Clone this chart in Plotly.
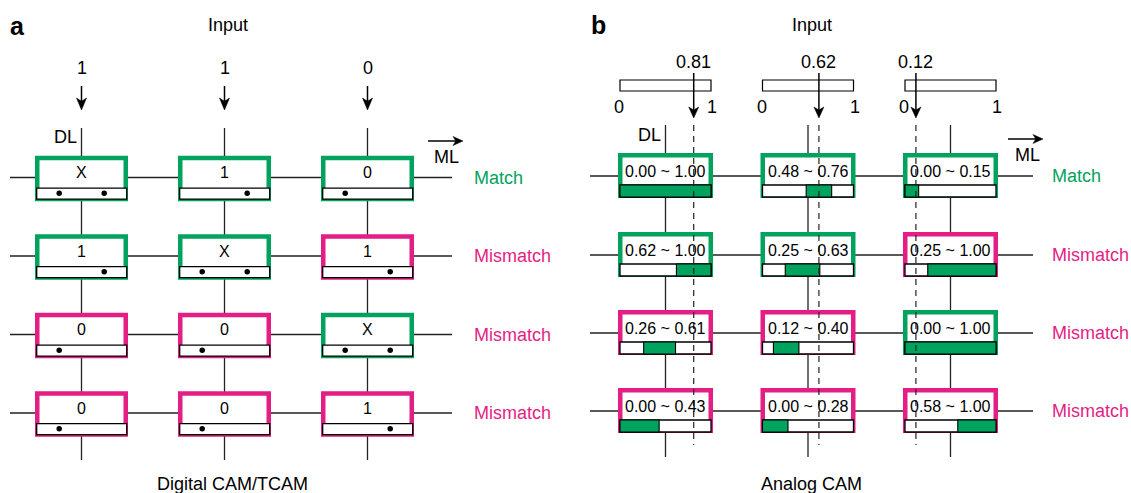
import plotly.graph_objects as go

# ---------------- data ----------------
digital_inputs = ["1", "1", "0"]
digital_cells = [["X", "1", "0"],
                 ["1", "X", "1"],
                 ["0", "0", "X"],
                 ["0", "0", "1"]]
digital_results = ["Match", "Mismatch", "Mismatch", "Mismatch"]

analog_inputs = [0.81, 0.62, 0.12]
analog_low = [[0.00, 0.48, 0.00],
              [0.62, 0.25, 0.25],
              [0.26, 0.12, 0.00],
              [0.00, 0.00, 0.58]]
analog_high = [[1.00, 0.76, 0.15],
               [1.00, 0.63, 1.00],
               [0.61, 0.40, 1.00],
               [0.43, 0.28, 1.00]]
analog_results = ["Match", "Mismatch", "Mismatch", "Mismatch"]

# ---------------- style / layout ----------------
W, H = 1131, 493
GREEN = "#00A35E"
PINK = "#E41E84"
LINE = "#222222"
FONT = "Liberation Sans, Arial, Helvetica, sans-serif"

shapes = []
annotations = []
dot_x, dot_y = [], []


def line(x0, y0, x1, y1, width=1.3, color=LINE, dash=None):
    d = dict(type="line", x0=x0, y0=y0, x1=x1, y1=y1, xref="x", yref="y",
             layer="below", line=dict(color=color, width=width))
    if dash:
        d["line"]["dash"] = dash
    shapes.append(d)


def rect(x0, y0, x1, y1, lc, lw, fill):
    shapes.append(dict(type="rect", x0=x0, y0=y0, x1=x1, y1=y1, xref="x", yref="y",
                       layer="below", line=dict(color=lc, width=lw), fillcolor=fill))


def head(xt, yt, direction, length, hw):
    if direction == "down":
        p = (f"M{xt},{yt} L{xt-hw},{yt-length} L{xt},{yt-length*0.72} "
             f"L{xt+hw},{yt-length} Z")
    else:  # right
        p = (f"M{xt},{yt} L{xt-length},{yt-hw} L{xt-length*0.72},{yt} "
             f"L{xt-length},{yt+hw} Z")
    shapes.append(dict(type="path", path=p, xref="x", yref="y", layer="below",
                       fillcolor="black", line=dict(color="black", width=0.5)))


def text(x, y, s, size=18, color="black", xanchor="center", bold=False):
    if bold:
        s = f"<b>{s}</b>"
    annotations.append(dict(x=x, y=y, xref="x", yref="y", text=s, showarrow=False,
                            xanchor=xanchor, yanchor="middle",
                            font=dict(family=FONT, size=size, color=color)))


def result_color(r):
    return GREEN if r == "Match" else PINK


# ================= panel a : digital CAM =================
a_cols = [81.5, 224.5, 367.5]
a_rows = [178.5, 257.0, 335.5, 414.0]
a_bw, a_bh, bord = 93, 45.5, 4.5

text(17, 26, "a", size=25, bold=True)
text(228, 25, "Input", size=18)
text(65, 137, "DL", size=18)
text(232, 484, "Digital CAM/TCAM", size=18)
text(446, 157, "ML", size=18)
line(428, 141, 456, 141, width=1.5, color="black")
head(463, 141, "right", 10, 4.5)

for j, cx in enumerate(a_cols):
    text(cx, 68, digital_inputs[j], size=18)
    line(cx, 86, cx, 104, width=1.5, color="black")
    head(cx, 110, "down", 12, 5)
    line(cx, 128, cx, 460)

for i, cy in enumerate(a_rows):
    line(10, cy - 1, 452, cy - 1)
    text(472, cy - 1, digital_results[i], size=18, color=result_color(digital_results[i]),
         xanchor="left")

for i, cy in enumerate(a_rows):
    top = cy - a_bh / 2
    for j, cx in enumerate(a_cols):
        v = digital_cells[i][j]
        ok = (v == "X") or (v == digital_inputs[j])
        col = GREEN if ok else PINK
        left = cx - a_bw / 2
        rect(left + bord / 2, top + bord / 2, left + a_bw - bord / 2, top + a_bh - bord / 2,
             col, bord, "white")
        bx0, bx1 = left + 1.7, left + a_bw - 1.3
        rect(bx0, top + 32.3, bx1, top + 43.3, "black", 1.3, "white")
        text(cx, top + 17, v, size=16)
        bw = bx1 - bx0
        if v in ("0", "X"):
            dot_x.append(bx0 + 0.25 * bw)
            dot_y.append(top + 37.5)
        if v in ("1", "X"):
            dot_x.append(bx0 + 0.75 * bw)
            dot_y.append(top + 37.5)

# ================= panel b : analog CAM =================
b_cols = [665.5, 808.0, 950.5]
b_rows = [175.5, 254.5, 332.5, 410.5]
b_bw, b_bh = 95, 45

text(598, 25, "b", size=25, bold=True)
text(812, 25, "Input", size=18)
text(649, 135, "DL", size=18)
text(811, 484, "Analog CAM", size=18)
text(1027, 155, "ML", size=18)
line(1008, 139, 1036, 139, width=1.5, color="black")
head(1043, 139, "right", 10, 4.5)


def b_scale(j):
    left = b_cols[j] - b_bw / 2
    return left + 2, left + b_bw - 2


for j, cx in enumerate(b_cols):
    x0, x1 = b_scale(j)
    vx = x0 + analog_inputs[j] * (x1 - x0)
    rect(x0, 80, x1, 91, "black", 1.2, "white")
    text(vx, 62, f"{analog_inputs[j]:.2f}", size=18)
    text(x0 - 1, 107, "0", size=18)
    text(x1 + 1, 107, "1", size=18)
    line(vx, 73, vx, 112, width=1.5, color="black")
    head(vx, 118, "down", 11, 5)
    line(cx, 125, cx, 457)

for i, cy in enumerate(b_rows):
    line(590, cy + 0.5, 1033, cy + 0.5)
    text(1050, cy + 0.5, analog_results[i], size=18, color=result_color(analog_results[i]),
         xanchor="left")

for i, cy in enumerate(b_rows):
    top = cy - b_bh / 2
    for j, cx in enumerate(b_cols):
        lo, hi = analog_low[i][j], analog_high[i][j]
        ok = lo <= analog_inputs[j] <= hi
        col = GREEN if ok else PINK
        left = cx - b_bw / 2
        rect(left + bord / 2, top + bord / 2, left + b_bw - bord / 2, top + b_bh - bord / 2,
             col, bord, "white")
        x0, x1 = b_scale(j)
        rect(x0, top + 32, x1, top + 44, "black", 1.3, "white")
        rect(x0 + lo * (x1 - x0), top + 32, x0 + hi * (x1 - x0), top + 44, "black", 1.1, GREEN)
        text(cx, top + 18, f"{lo:.2f} ~ {hi:.2f}", size=16)

# dashed input lines over the analog cells
for j in range(3):
    x0, x1 = b_scale(j)
    vx = x0 + analog_inputs[j] * (x1 - x0)
    line(vx, 125, vx, 445, width=1.2, color="#222222", dash="6px,5px")

fig = go.Figure()
fig.add_trace(go.Scatter(x=dot_x, y=dot_y, mode="markers",
                         marker=dict(color="black", size=5.5), hoverinfo="skip",
                         showlegend=False))
fig.update_layout(
    width=W, height=H, margin=dict(l=0, r=0, t=0, b=0),
    paper_bgcolor="white", plot_bgcolor="white",
    xaxis=dict(range=[0, W], visible=False, fixedrange=True),
    yaxis=dict(range=[H, 0], visible=False, fixedrange=True),
    shapes=shapes, annotations=annotations, showlegend=False,
)
fig.write_html("out.html", config={"displayModeBar": False},
               post_script="document.body.style.margin='0';document.body.style.overflow='hidden';")
